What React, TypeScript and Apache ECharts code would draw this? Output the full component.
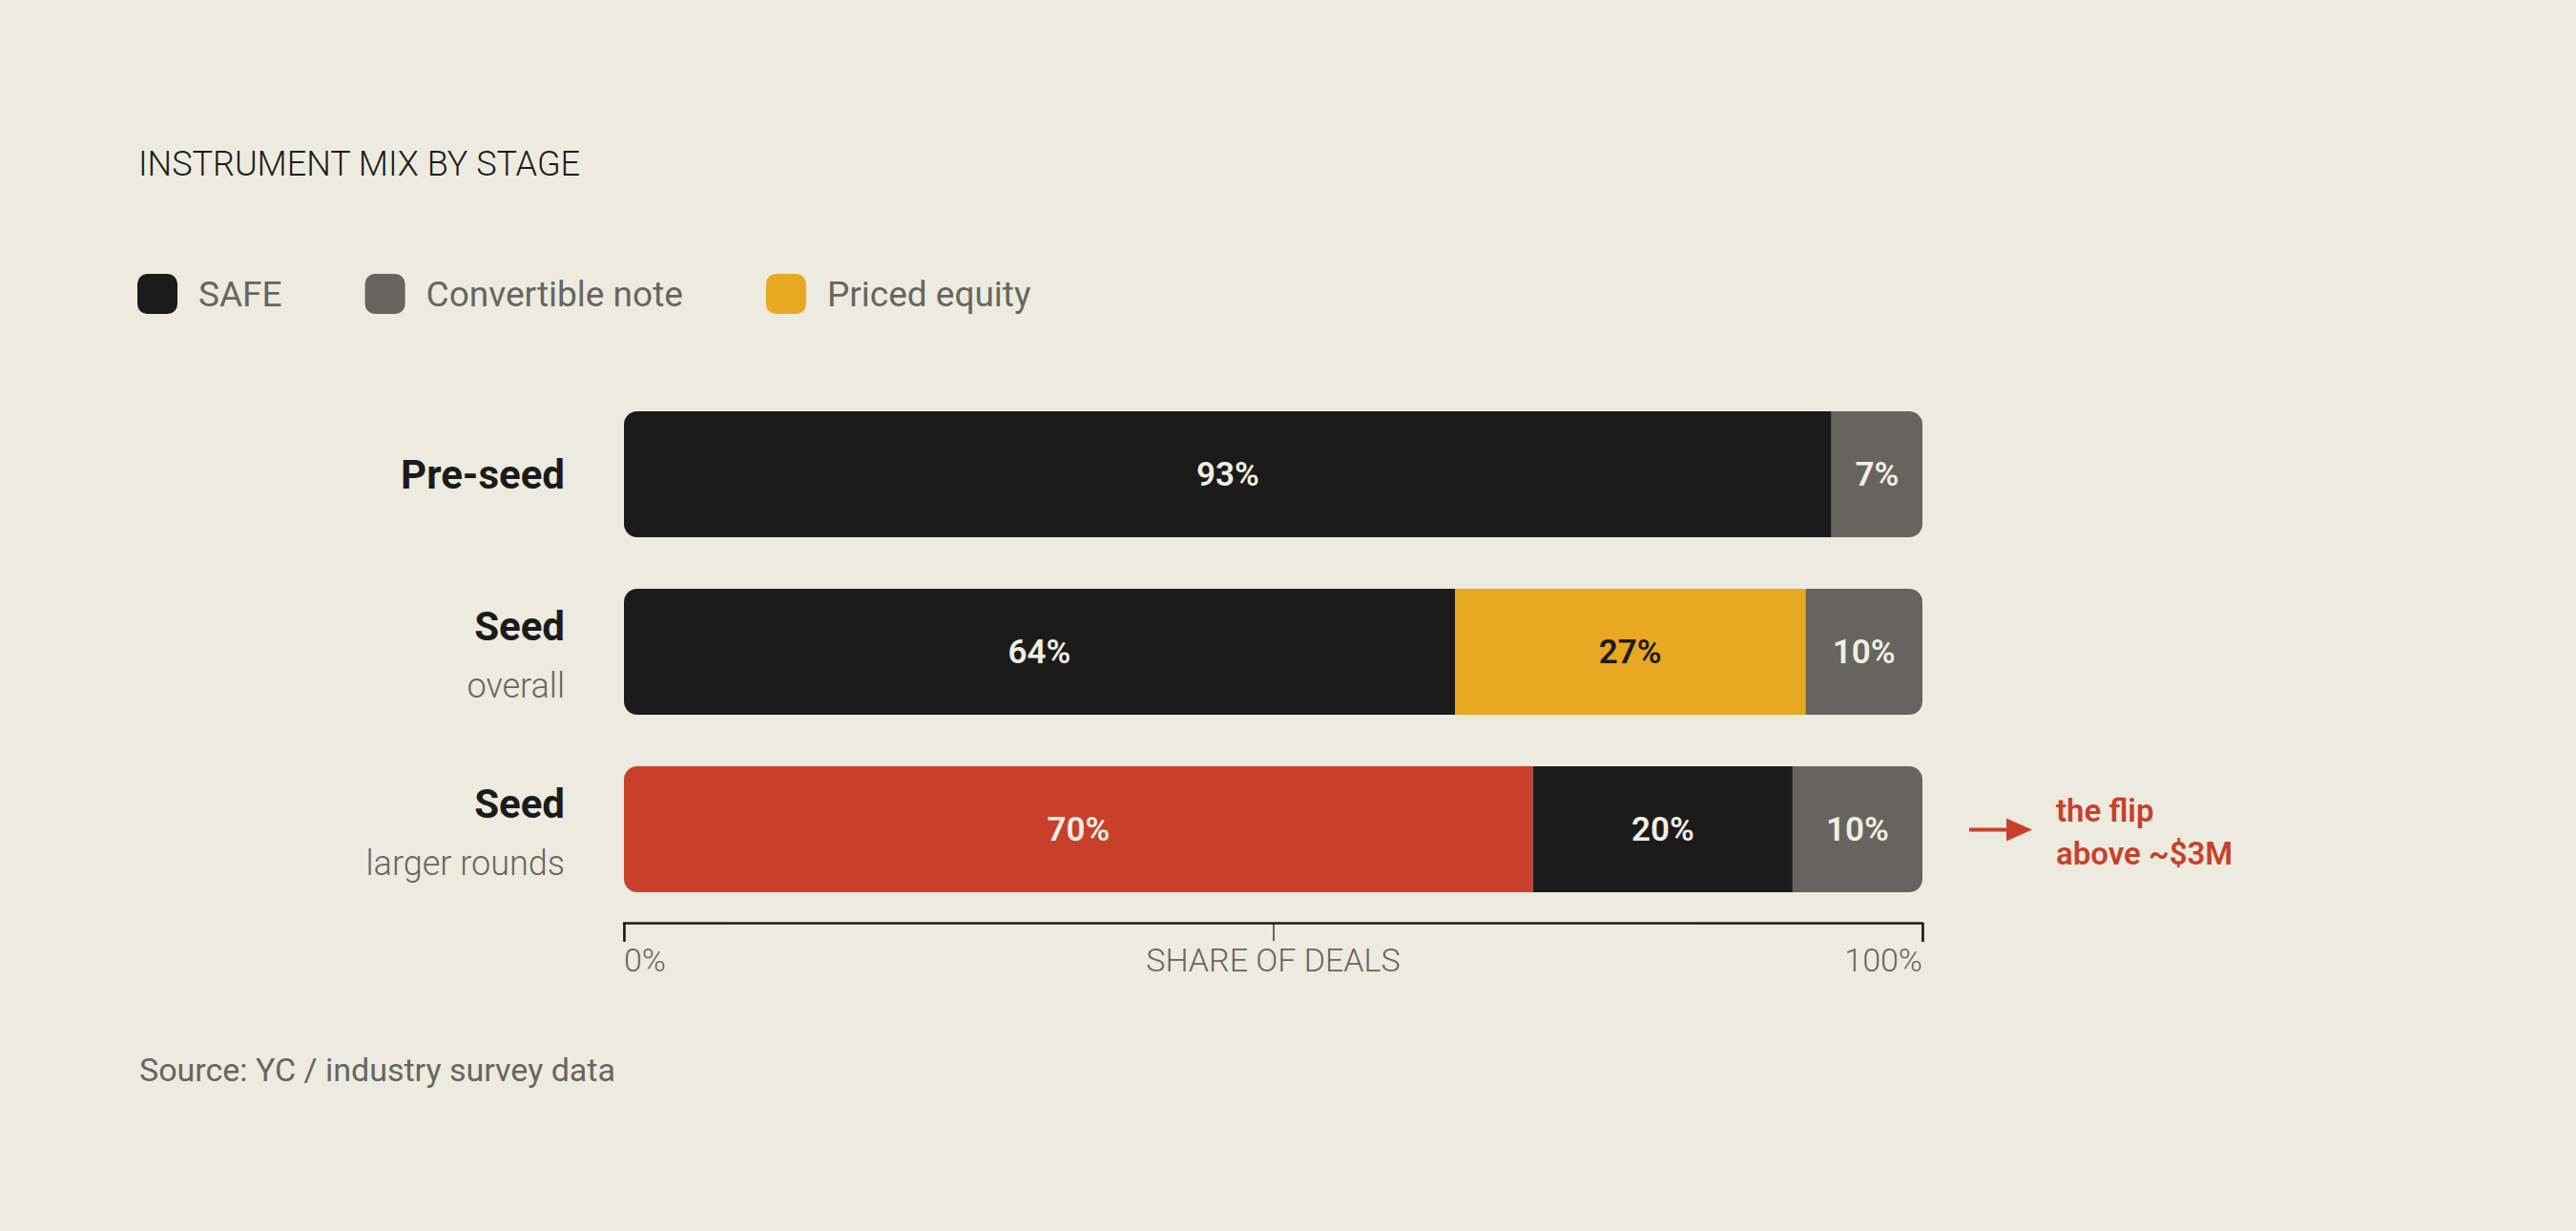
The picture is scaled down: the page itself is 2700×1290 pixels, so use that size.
import * as echarts from "echarts";
import { useEffect, useRef } from "react";

const STAGES = ["Pre-seed", "Seed", "Seed"];
const STAGE_NOTES = ["", "overall", "larger rounds"];
const INSTRUMENTS = ["SAFE", "Convertible note", "Priced equity"];
const SAFE_SHARE = [93, 64, 20];
const NOTE_SHARE = [7, 10, 10];
const PRICED_SHARE = [0, 27, 70];
// left-to-right order of the segments inside each bar
const SEGMENT_ORDER = [
  ["SAFE", "Convertible note"],
  ["SAFE", "Priced equity", "Convertible note"],
  ["Priced equity", "SAFE", "Convertible note"],
];
const FLIP_ROW = 2;
const X_TICKS_MAIN = 100;
const X_TICKS_MINOR = 50;

const BG = "#edebdf";
const INK = "#1b1b1b";
const MUTED = "#67655f";
const RED = "#c8402a";
const LIGHT = "#f1eee3";
const FONT = "Roboto, 'Noto Sans', sans-serif";

const COLORS: Record<string, string> = {
  SAFE: INK,
  "Convertible note": "#66645f",
  "Priced equity": "#e8a821",
};

const SHARES: Record<string, number[]> = {
  SAFE: SAFE_SHARE,
  "Convertible note": NOTE_SHARE,
  "Priced equity": PRICED_SHARE,
};

const R = 14;

function buildSegments() {
  const maxSeg = Math.max(...SEGMENT_ORDER.map((o) => o.length));
  const out: any[] = [];
  for (let pos = 0; pos < maxSeg; pos++) {
    out.push({
      type: "bar",
      name: `segment-${pos}`,
      stack: "mix",
      barWidth: 132,
      silent: true,
      label: {
        show: true,
        position: "inside",
        formatter: (p: any) => `${p.data.share}%`,
        fontSize: 35,
        fontWeight: 600,
        fontFamily: FONT,
      },
      data: SEGMENT_ORDER.map((order, row) => {
        const name = order[pos];
        if (!name) return "-";
        const share = SHARES[name][row];
        const before = order
          .slice(0, pos)
          .reduce((s, n) => s + SHARES[n][row], 0);
        // the rounded shares can add up past 100, keep the bar inside the axis
        const drawn = Math.min(share, 100 - before);
        const first = pos === 0;
        const last = pos === order.length - 1;
        const highlight = row === FLIP_ROW && name === "Priced equity";
        const color = highlight ? RED : COLORS[name];
        return {
          value: drawn,
          share,
          itemStyle: {
            color,
            borderRadius: [first ? R : 0, last ? R : 0, last ? R : 0, first ? R : 0],
          },
          label: {
            color: name === "Priced equity" && !highlight ? INK : LIGHT,
          },
        };
      }),
    });
  }
  return out;
}

export default function App() {
  const ref = useRef<HTMLDivElement>(null);

  useEffect(() => {
    document.body.style.margin = "0";
    if (!ref.current) return;
    const chart = echarts.init(ref.current, undefined, { renderer: "svg" });

    const grid = {
      left: 654,
      right: 685,
      top: 404,
      height: 558,
      outerBoundsMode: "none",
    };

    chart.setOption({
      animation: false,
      backgroundColor: BG,
      title: {
        text: "INSTRUMENT MIX BY STAGE",
        left: 145,
        top: 154,
        padding: 0,
        textStyle: {
          fontSize: 36,
          fontWeight: 300,
          color: INK,
          lineHeight: 36,
          fontFamily: FONT,
        },
      },
      legend: {
        data: INSTRUMENTS,
        left: 144,
        top: 287,
        padding: 0,
        itemWidth: 42,
        itemHeight: 42,
        itemGap: 87,
        icon: "roundRect",
        selectedMode: false,
        textStyle: {
          fontSize: 37,
          fontWeight: 400,
          color: MUTED,
          fontFamily: FONT,
          padding: [0, 0, 0, 17],
        },
      },
      grid: [grid, { ...grid }],
      xAxis: [
        {
          type: "value",
          gridIndex: 0,
          min: 0,
          max: 100,
          interval: X_TICKS_MAIN,
          offset: 5,
          z: 3,
          splitLine: { show: false },
          axisLine: { show: true, lineStyle: { color: INK, width: 2.5 } },
          axisTick: { show: true, length: 20, lineStyle: { color: INK, width: 2.5 } },
          axisLabel: {
            margin: 22,
            formatter: (v: number) => `${v}%`,
            alignMinLabel: "left",
            alignMaxLabel: "right",
            fontSize: 34,
            fontWeight: 300,
            color: MUTED,
            fontFamily: FONT,
          },
          name: "SHARE OF DEALS",
          nameLocation: "middle",
          nameGap: 22,
          nameMoveOverlap: false,
          nameTextStyle: {
            fontSize: 34,
            fontWeight: 300,
            color: MUTED,
            fontFamily: FONT,
            verticalAlign: "top",
          },
        },
        {
          type: "value",
          gridIndex: 1,
          min: 0,
          max: 100,
          interval: X_TICKS_MINOR,
          offset: 5,
          z: 1,
          splitLine: { show: false },
          axisLine: { show: false },
          axisTick: { show: true, length: 19, lineStyle: { color: MUTED, width: 2 } },
          axisLabel: { show: false },
        },
      ],
      yAxis: [
        {
          type: "category",
          gridIndex: 0,
          data: STAGES,
          inverse: true,
          axisLine: { show: false },
          axisTick: { show: false },
          splitLine: { show: false },
          axisLabel: {
            margin: 62,
            align: "right",
            formatter: (v: string, i: number) =>
              STAGE_NOTES[i]
                ? `{stage|${v}}\n{note|${STAGE_NOTES[i]}}`
                : `{stage|${v}}`,
            rich: {
              stage: {
                fontSize: 42,
                fontWeight: 700,
                color: INK,
                lineHeight: 71,
                fontFamily: FONT,
              },
              note: {
                fontSize: 36,
                fontWeight: 300,
                color: MUTED,
                lineHeight: 53,
                fontFamily: FONT,
              },
            },
          },
        },
        { type: "category", gridIndex: 1, data: STAGES, show: false },
      ],
      series: [
        // legend entries only
        ...INSTRUMENTS.map((name) => ({
          type: "bar",
          name,
          stack: "mix",
          data: [],
          itemStyle: { color: COLORS[name] },
        })),
        ...buildSegments(),
      ],
      graphic: [
        {
          type: "line",
          shape: { x1: 2064, y1: 869.5, x2: 2106, y2: 869.5 },
          style: { stroke: RED, lineWidth: 4 },
        },
        {
          type: "polygon",
          shape: { points: [[2103, 857.5], [2130, 869.5], [2103, 881.5]] },
          style: { fill: RED },
        },
        {
          type: "text",
          x: 2155,
          y: 872,
          style: {
            text: "the flip\nabove ~$3M",
            fontSize: 33,
            fontWeight: 600,
            lineHeight: 45,
            fill: RED,
            fontFamily: FONT,
            verticalAlign: "middle",
          },
        },
        {
          type: "text",
          x: 146,
          y: 1121,
          style: {
            text: "Source: YC / industry survey data",
            fontSize: 34,
            fontWeight: 400,
            fill: MUTED,
            fontFamily: FONT,
            verticalAlign: "middle",
          },
        },
      ],
    });

    return () => chart.dispose();
  }, []);

  return <div ref={ref} style={{ width: 2700, height: 1290, background: BG }} />;
}
